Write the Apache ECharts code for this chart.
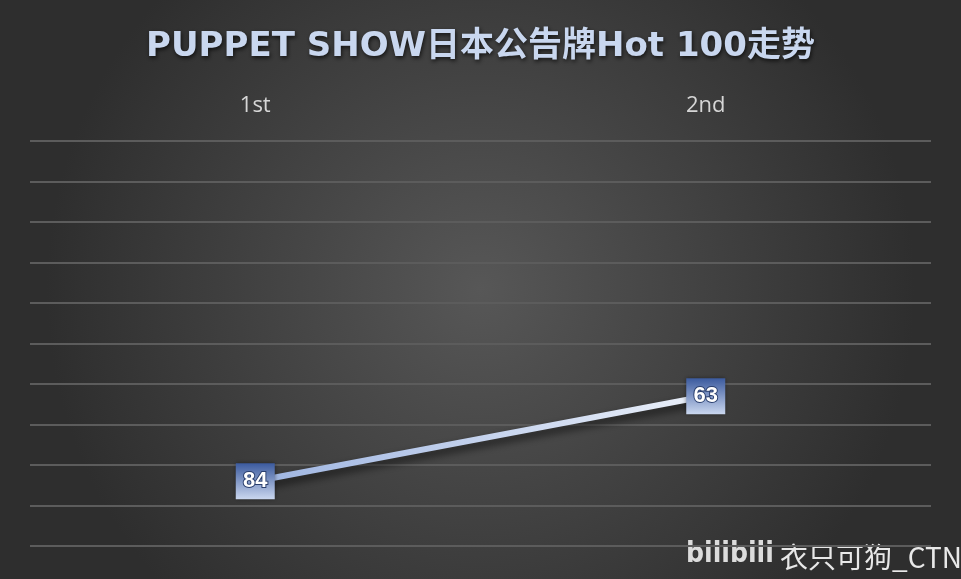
<!DOCTYPE html>
<html>
<head>
<meta charset="utf-8">
<script src="https://cdn.jsdelivr.net/npm/echarts@6/dist/echarts.min.js"></script>
<style>html,body{margin:0;padding:0;background:#3a3a3a;}#c{width:961px;height:579px;}</style>
</head>
<body>
<div id="c"></div>
<script>
const titleText = 'PUPPET SHOW日本公告牌Hot 100走势';
const categories = ['1st', '2nd'];
const ranks = [84, 63];
const rankMin = 0, rankMax = 100, rankStep = 10;

const chart = echarts.init(document.getElementById('c'));
chart.setOption({
  backgroundColor: {
    type: 'radial', x: 0.5, y: 0.5, r: 0.75,
    colorStops: [{offset: 0, color: '#575757'}, {offset: 1, color: '#2e2e2e'}]
  },
  title: {
    text: titleText, left: 'center', top: 25,
    textStyle: {
      fontFamily: '"DejaVu Sans", "Noto Sans CJK SC", sans-serif',
      fontWeight: 'bold', fontSize: 34,
      color: '#c9d7ef',
      textShadowColor: 'rgba(0,0,0,0.7)', textShadowBlur: 4, textShadowOffsetX: 1, textShadowOffsetY: 2
    }
  },
  grid: {left: 30, right: 30, top: 141, bottom: 33},
  xAxis: {
    type: 'category', data: categories, position: 'top', boundaryGap: true,
    axisLine: {show: false}, axisTick: {show: false},
    axisLabel: {color: '#d6d6d6', fontSize: 22, margin: 24, fontFamily: '"Open Sans", sans-serif'}
  },
  yAxis: {
    type: 'value', inverse: true, min: rankMin, max: rankMax, interval: rankStep,
    axisLine: {show: false}, axisTick: {show: false}, axisLabel: {show: false},
    splitLine: {lineStyle: {color: '#5c5c5c', width: 2}}
  },
  series: [{
    type: 'line', data: ranks,
    symbol: 'rect', symbolSize: [39, 36],
    itemStyle: {
      color: {type: 'linear', x: 0, y: 0, x2: 0, y2: 1,
        colorStops: [{offset: 0, color: '#3b5a9e'}, {offset: 1, color: '#cad7ef'}]},
      shadowColor: 'rgba(0,0,0,0.4)', shadowBlur: 4
    },
    lineStyle: {
      width: 6,
      color: {type: 'linear', x: 0, y: 0, x2: 1, y2: 0,
        colorStops: [{offset: 0, color: '#9db4e1'}, {offset: 1, color: '#ecf1fa'}]},
      shadowColor: 'rgba(0,0,0,0.65)', shadowBlur: 8, shadowOffsetY: 5
    },
    label: {
      show: true, position: 'inside', color: '#ffffff', fontWeight: 'bold', fontSize: 22,
      fontFamily: '"Liberation Sans Narrow", "Liberation Sans", sans-serif',
      textBorderColor: '#2a3f6e', textBorderWidth: 2
    },
    emphasis: {disabled: true},
    animation: false
  }],
  graphic: [
    {type: 'text', left: 686, top: 541, style: {text: 'bilibili', fill: '#dcdcdc',
      font: 'bold 28px "DejaVu Sans Condensed", "DejaVu Sans", sans-serif'}},
    {type: 'text', left: 780, top: 543, style: {text: '衣只可狗_CTN', fill: '#e8e8e8',
      font: '28px "Noto Sans CJK SC", sans-serif'}}
  ]
});
</script>
</body>
</html>
